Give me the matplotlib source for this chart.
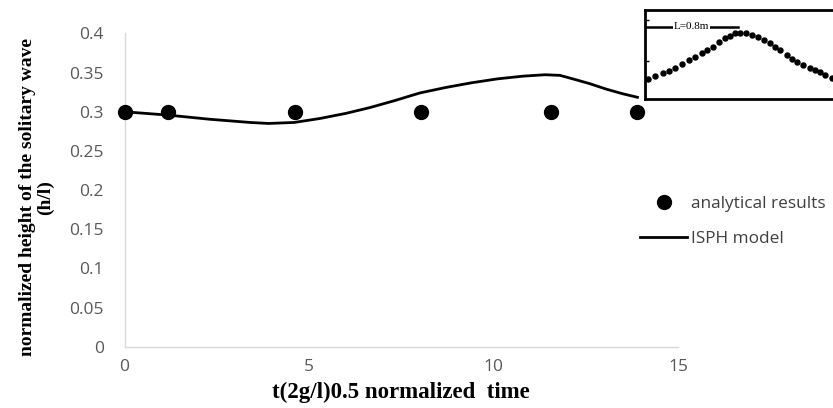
import matplotlib.pyplot as plt

# analytical solution (dots)
analytical_t = [0, 1.18, 4.62, 8.04, 11.55, 13.9]
analytical_h = [0.30, 0.30, 0.30, 0.30, 0.30, 0.30]

# ISPH model curve
isph_t = [0, 1.2, 2.3, 3.4, 3.9, 4.6, 5.3, 6.0, 6.65, 7.3, 8.0, 8.7,
          9.4, 10.1, 10.8, 11.4, 11.8, 12.15, 12.6, 13.05, 13.5, 13.9]
isph_h = [0.300, 0.2957, 0.2905, 0.2864, 0.2851, 0.2864, 0.2915, 0.298,
          0.3054, 0.314, 0.324, 0.331, 0.337, 0.342, 0.3455, 0.3473,
          0.3465, 0.342, 0.336, 0.329, 0.323, 0.3185]

y_ticks = [0, 0.05, 0.1, 0.15, 0.2, 0.25, 0.3, 0.35, 0.4]
y_tick_labels = ["0", "0.05", "0.1", "0.15", "0.2", "0.25", "0.3", "0.35", "0.4"]
x_ticks = [0, 5, 10, 15]

# inset: wave profile snapshot (x in m, relative elevation)
inset_x = [0.028, 0.086, 0.152, 0.209, 0.258, 0.316, 0.381, 0.430, 0.488,
           0.531, 0.582, 0.639, 0.688, 0.731, 0.774, 0.817, 0.869, 0.918,
           0.975, 1.024, 1.075, 1.118, 1.161, 1.219, 1.262, 1.305, 1.362,
           1.419, 1.462, 1.505, 1.548, 1.606]
inset_eta = [0.225, 0.258, 0.296, 0.315, 0.345, 0.393, 0.438, 0.475, 0.520,
             0.551, 0.588, 0.644, 0.682, 0.711, 0.738, 0.745, 0.745, 0.719,
             0.693, 0.663, 0.626, 0.588, 0.551, 0.494, 0.446, 0.419, 0.382,
             0.345, 0.326, 0.307, 0.270, 0.233]
wave_length = 0.8
wave_length_level = 0.81

tick_font = "Open Sans"
serif = "Liberation Serif"
grey = "#595959"

fig = plt.figure(figsize=(8.33, 4.08), dpi=100)
ax = fig.add_axes([0.1495, 0.150, 0.6645, 0.768])

ax.plot(isph_t, isph_h, color="black", lw=2, label="ISPH model", zorder=2)
ax.plot(analytical_t, analytical_h, "o", color="black", markersize=10,
        label="analytical results", zorder=3, clip_on=False)

ax.set_xlim(0, 15)
ax.set_ylim(0, 0.4)
ax.set_xticks(x_ticks)
ax.set_yticks(y_ticks)
ax.set_yticklabels(y_tick_labels)
ax.tick_params(length=0, labelsize=12.5, labelcolor=grey)
ax.tick_params(axis="y", pad=15)
ax.tick_params(axis="x", pad=9)
for lab in ax.get_xticklabels() + ax.get_yticklabels():
    lab.set_fontfamily(tick_font)

for side in ["top", "right"]:
    ax.spines[side].set_visible(False)
for side in ["left", "bottom"]:
    ax.spines[side].set_color("#d9d9d9")
    ax.spines[side].set_linewidth(1)

ax.set_xlabel("t(2g/l)0.5 normalized  time", fontfamily=serif,
              fontweight="bold", fontsize=16.5, labelpad=5)
ax.set_ylabel("normalized height of the solitary wave\n(h/l)", fontfamily=serif,
              fontweight="bold", fontsize=14, linespacing=1.05)
ax.yaxis.set_label_coords(-0.128, 0.477)

handles, labels = ax.get_legend_handles_labels()
leg = fig.legend(handles[::-1], labels[::-1], loc="upper left",
                 bbox_to_anchor=(640 / 833, 1 - 196 / 408),
                 frameon=False, borderpad=0, borderaxespad=0,
                 handlelength=2.75, handletextpad=0.22, labelspacing=1.1,
                 prop={"family": tick_font, "size": 12.4})
for t in leg.get_texts():
    t.set_color("#404040")

# inset picture of the wave
ins = fig.add_axes([645 / 833, 1 - 99 / 408, 200 / 833, 89 / 408])
ins.plot(inset_x, inset_eta, "o", color="black", markersize=3.6)
ins.plot([0, wave_length], [wave_length_level, wave_length_level],
         color="black", lw=1.8)
ins.text(wave_length / 2, wave_length_level, "L=0.8m", ha="center",
         va="center", fontfamily=serif, fontsize=8,
         bbox=dict(facecolor="white", edgecolor="none", pad=0.5))
ins.set_xlim(0, 1.72)
ins.set_ylim(0, 1)
ins.set_xticks([])
ins.set_yticks([0.43, 0.89])
ins.set_yticklabels([])
ins.tick_params(axis="y", direction="in", length=3, width=1)
for s in ins.spines.values():
    s.set_linewidth(2)

fig.savefig("out.png", dpi=100)
